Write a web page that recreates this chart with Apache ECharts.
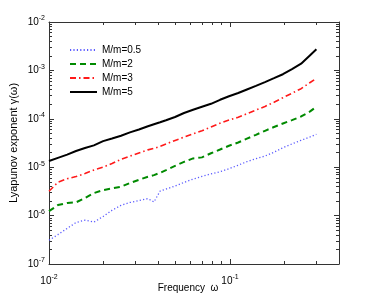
<!DOCTYPE html>
<html><head><meta charset="utf-8">
<script src="https://cdn.jsdelivr.net/npm/echarts@6/dist/echarts.min.js"></script>
<style>html,body{margin:0;padding:0;background:#fff}#c{width:374px;height:298px}</style>
</head><body><div id="c"></div>
<script>
const freq = [0.0100,0.0112,0.0126,0.0141,0.0158,0.0177,0.0199,0.0223,0.0250,0.0280,0.0314,0.0352,0.0380,0.0411,0.0443,0.0497,0.0557,0.0625,0.0700,0.0785,0.0881,0.0987,0.111,0.124,0.139,0.156,0.175,0.196,0.220,0.247,0.277,0.300];
const m05 = [3.09e-7,4.05e-7,5.44e-7,7.20e-7,8.04e-7,7.34e-7,9.57e-7,1.288e-6,1.633e-6,1.866e-6,2.04e-6,2.24e-6,1.91e-6,3.22e-6,3.53e-6,4.09e-6,4.85e-6,5.68e-6,6.46e-6,7.28e-6,8.07e-6,9.31e-6,1.10e-5,1.30e-5,1.50e-5,1.70e-5,2.04e-5,2.53e-5,3.03e-5,3.60e-5,4.23e-5,4.79e-5];
const m2 = [1.233e-6,1.648e-6,1.82e-6,1.875e-6,2.30e-6,2.92e-6,3.35e-6,3.65e-6,3.94e-6,4.72e-6,5.49e-6,6.34e-6,6.87e-6,7.66e-6,8.71e-6,1.064e-5,1.288e-5,1.52e-5,1.596e-5,1.94e-5,2.32e-5,2.77e-5,3.24e-5,3.88e-5,4.67e-5,5.65e-5,6.77e-5,8.0e-5,9.40e-5,1.117e-4,1.422e-4,1.778e-4];
const m3 = [3.18e-6,4.90e-6,5.78e-6,6.40e-6,7.41e-6,8.75e-6,1.005e-5,1.19e-5,1.456e-5,1.70e-5,1.97e-5,2.28e-5,2.45e-5,2.69e-5,3.01e-5,3.58e-5,4.17e-5,4.88e-5,5.68e-5,6.74e-5,8.11e-5,9.45e-5,1.074e-4,1.274e-4,1.52e-4,1.80e-4,2.20e-4,2.73e-4,3.38e-4,4.19e-4,5.62e-4,6.87e-4];
const m5 = [1.34e-5,1.56e-5,1.82e-5,2.16e-5,2.49e-5,2.83e-5,3.46e-5,3.92e-5,4.46e-5,5.24e-5,6.01e-5,7.0e-5,7.73e-5,8.51e-5,9.35e-5,1.089e-4,1.318e-4,1.542e-4,1.778e-4,2.04e-4,2.47e-4,2.93e-4,3.41e-4,4.03e-4,4.79e-4,5.73e-4,6.90e-4,8.34e-4,1.064e-3,1.375e-3,2.06e-3,2.73e-3];
const seriesNames = ['M/m=0.5','M/m=2','M/m=3','M/m=5'];
const xLabelValues = [0.01, 0.1];
const yLabelValues = [1e-7,1e-6,1e-5,1e-4,1e-3,1e-2];

const FONT = 'Liberation Sans, Arial, sans-serif';
const AX = '#333';
function pow10Label(v) {
  const e = Math.round(Math.log10(v));
  return '{b|10}{e|' + e + '}';
}
const rich = {
  b: {fontSize: 10, fontFamily: FONT, color: '#000', lineHeight: 12},
  e: {fontSize: 7, fontFamily: FONT, color: '#000', padding: [0, 0, 7, 0], lineHeight: 12}
};
function axis(kind, pos, min, max, labelValues, withLabels) {
  return {
    type: 'log', logBase: 10, min: min, max: max, position: pos,
    splitLine: {show: false},
    axisLine: {show: true, lineStyle: {color: AX, width: 1}},
    axisTick: {show: true, inside: true, length: 5, lineStyle: {color: AX}},
    minorTick: {show: true, splitNumber: 9, length: 3, lineStyle: {color: AX}},
    axisLabel: withLabels ? {show: true, customValues: labelValues, formatter: pow10Label, rich: rich, margin: kind === 'x' ? 11 : 4} : {show: false}
  };
}
const xs = [axis('x', 'bottom', 0.01, 0.4, xLabelValues, true), axis('x', 'top', 0.01, 0.4, xLabelValues, false)];
xs[0].name = 'Frequency  \u03c9';
xs[0].nameLocation = 'middle';
xs[0].nameGap = 19;
xs[0].nameMoveOverlap = false;
xs[0].nameTextStyle = {fontSize: 10, fontFamily: FONT, color: '#000', padding: [0, 12, 0, 0]};
const ys = [axis('y', 'left', 1e-7, 1e-2, yLabelValues, true), axis('y', 'right', 1e-7, 1e-2, yLabelValues, false)];
ys[0].name = 'Lyapunov exponent \u03b3(\u03c9)';
ys[0].nameLocation = 'middle';
ys[0].nameGap = 30;
ys[0].nameMoveOverlap = false;
ys[0].nameTextStyle = {fontSize: 11, fontFamily: FONT, color: '#000'};

function mk(name, vals, color, type, width) {
  return {
    name: name, type: 'line', xAxisIndex: 0, yAxisIndex: 0,
    data: freq.map((f, i) => [f, vals[i]]),
    showSymbol: false, symbol: 'none', smooth: false, animation: false,
    lineStyle: {color: color, type: type, width: width},
    itemStyle: {color: color}
  };
}
const chart = echarts.init(document.getElementById('c'), null, {renderer: 'canvas'});
chart.setOption({
  animation: false,
  backgroundColor: '#fff',
  grid: {left: 49, right: 35, top: 22, bottom: 34, containLabel: false, outerBoundsMode: 'none'},
  legend: {
    orient: 'vertical', left: 64, top: 39, itemWidth: 27, itemHeight: 10, itemGap: 2,
    itemStyle: {opacity: 0},
    textStyle: {fontSize: 10, fontFamily: FONT, color: '#000', lineHeight: 12},
    data: seriesNames
  },
  xAxis: xs,
  yAxis: ys,
  series: [
    mk(seriesNames[0], m05, '#5a5aff', [1.2, 2.2], 1.3),
    mk(seriesNames[1], m2, '#008a00', [6, 4], 2),
    mk(seriesNames[2], m3, '#ff1a1a', [6, 3, 1.5, 3], 1.6),
    mk(seriesNames[3], m5, '#000000', 'solid', 2)
  ]
});
</script></body></html>
